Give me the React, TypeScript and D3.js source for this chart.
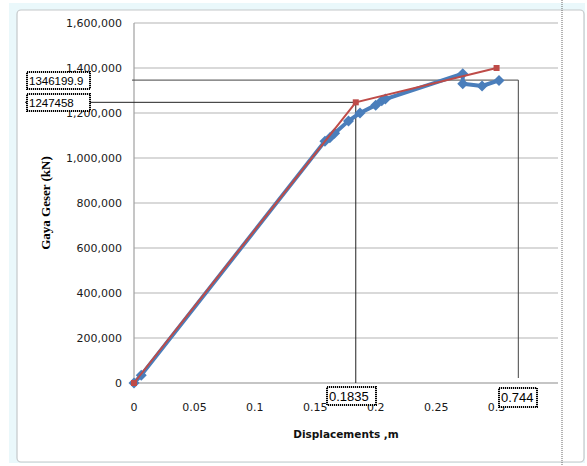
import React from "react";
import * as d3 from "d3";

const blueX = [0, 0.006, 0.158, 0.162, 0.166, 0.1775, 0.187, 0.2, 0.205, 0.208, 0.272, 0.272, 0.288, 0.302];
const blueY = [0, 35000, 1075000, 1090000, 1110000, 1165000, 1200000, 1235000, 1255000, 1262000, 1375000, 1330000, 1320000, 1345000];
const redX = [0, 0.1835, 0.3];
const redY = [0, 1247458, 1400000];
const xTicks = [0, 0.05, 0.1, 0.15, 0.2, 0.25, 0.3];
const xTickLabels = ["0", "0.05", "0.1", "0.15", "0.2", "0.25", "0.3"];
const yTicks = [0, 200000, 400000, 600000, 800000, 1000000, 1200000, 1400000, 1600000];
const yieldDisp = 0.1835;
const yieldForce = 1247458;
const ultDisp = 0.318;
const ultForce = 1346199.9;
const yieldDispLabel = "0.1835";
const yieldForceLabel = "1247458";
const ultDispLabel = "0.744";
const ultForceLabel = "1346199.9";

export default function App() {
  const x = d3.scaleLinear().domain([0, 0.35]).range([134, 557]);
  const y = d3.scaleLinear().domain([0, 1600000]).range([383, 23]);
  const fmt = d3.format(",");
  const blue = blueX.map((v, i) => [x(v), y(blueY[i])] as [number, number]);
  const red = redX.map((v, i) => [x(v), y(redY[i])] as [number, number]);
  const line = d3.line();
  const tickFont = "'DejaVu Sans', sans-serif";
  const box = (bx: number, by: number, w: number, h: number, text: string, fs: number) => (
    <g>
      <rect x={bx} y={by} width={w} height={h} fill="#fff" stroke="#000" strokeWidth={2} strokeDasharray="1.2,0.8" />
      <text x={bx + 2} y={by + h / 2 + fs * 0.36} fontFamily="'Liberation Sans', Arial, sans-serif" fontSize={fs} fill="#000">{text}</text>
    </g>
  );
  return (
    <svg width={587} height={466} style={{ position: "absolute", left: 0, top: 0 }}>
      <rect x={0} y={0} width={587} height={466} fill="#fff" />
      <rect x={9} y={3} width={576} height={460} fill="#eaf8fb" />
      <rect x={17} y={10} width={567} height={452} rx={4} fill="#fff" stroke="#c4c8ca" strokeWidth={1.2} />
      <line x1={562} x2={562} y1={0} y2={466} stroke="#666" strokeWidth={1} strokeDasharray="1,1" />
      {yTicks.filter((t) => t > 0).map((t) => (
        <line key={t} x1={134} x2={558} y1={y(t)} y2={y(t)} stroke="#b4b4b4" strokeWidth={1.2} />
      ))}
      <line x1={134} x2={134} y1={23} y2={383} stroke="#a0a0a0" strokeWidth={1.2} />
      <line x1={134} x2={558} y1={383} y2={383} stroke="#8c8c8c" strokeWidth={1.2} />
      {yTicks.map((t) => (
        <text key={t} x={122} y={y(t) + 4} textAnchor="end" fontFamily={tickFont} fontSize={11} fill="#1a1a1a">{fmt(t)}</text>
      ))}
      {xTicks.map((t, i) => (
        <text key={t} x={x(t)} y={411} textAnchor="middle" fontFamily={tickFont} fontSize={11} fill="#1a1a1a">{xTickLabels[i]}</text>
      ))}
      <text x={346} y={438} textAnchor="middle" fontFamily={tickFont} fontWeight="bold" fontSize={10.5} fill="#111">Displacements ,m</text>
      <text transform={`translate(50,203) rotate(-90)`} textAnchor="middle" fontFamily="'Liberation Serif', 'Times New Roman', serif" fontWeight="bold" fontSize={13} fill="#000">Gaya Geser (kN)</text>
      <line x1={25} x2={x(yieldDisp)} y1={y(yieldForce)} y2={y(yieldForce)} stroke="#222" strokeWidth={1} />
      <line x1={x(yieldDisp)} x2={x(yieldDisp)} y1={y(yieldForce)} y2={383} stroke="#222" strokeWidth={1} />
      <line x1={132} x2={x(ultDisp)} y1={y(ultForce)} y2={y(ultForce)} stroke="#444" strokeWidth={1} />
      <line x1={x(ultDisp)} x2={x(ultDisp)} y1={y(ultForce)} y2={378} stroke="#444" strokeWidth={1} />
      <path d={line(blue) || ""} fill="none" stroke="#4a7ebb" strokeWidth={4} strokeLinejoin="round" />
      {blue.map(([px, py], i) => (
        <path key={i} d={`M${px},${py - 5.5}L${px + 5.5},${py}L${px},${py + 5.5}L${px - 5.5},${py}Z`} fill="#4a7ebb" />
      ))}
      <path d={line(red) || ""} fill="none" stroke="#be4b48" strokeWidth={2} />
      {red.map(([px, py], i) => (
        <rect key={i} x={px - 3} y={py - 3} width={6} height={6} fill="#be4b48" />
      ))}
      {box(27, 72, 63, 17, ultForceLabel, 11.5)}
      {box(27, 94, 63, 17, yieldForceLabel, 11.5)}
      {box(327, 387, 49, 18, yieldDispLabel, 13)}
      {box(499, 388, 38, 19, ultDispLabel, 13)}
    </svg>
  );
}
